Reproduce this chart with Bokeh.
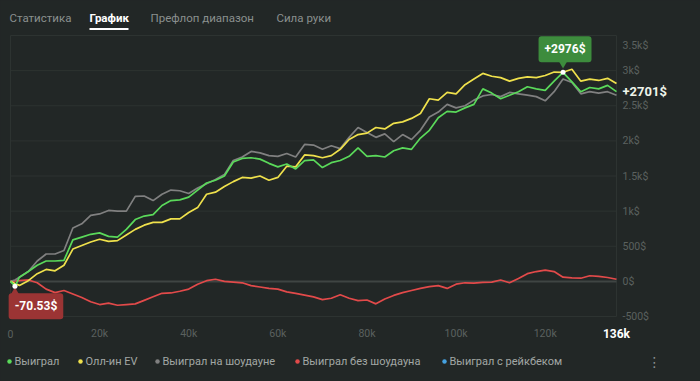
from bokeh.plotting import figure
from bokeh.models import Range1d, Label, BoxAnnotation
from bokeh.embed import file_html
from bokeh.resources import INLINE
from bokeh.core.properties import value

# ---------------- data ----------------
hands = [0, 1000] + list(range(2000, 136001, 2000))

won = [0, -70.53, 60, 140, 230, 290, 290, 300, 590, 630, 670, 690, 640, 630, 740, 880,
       930, 950, 1080, 1150, 1160, 1200, 1300, 1400, 1440, 1500, 1700, 1750, 1760, 1740,
       1680, 1630, 1670, 1600, 1720, 1730, 1620, 1690, 1720, 1780, 1900, 1780, 1790, 1770,
       1860, 1900, 1880, 2040, 2150, 2330, 2420, 2410, 2470, 2520, 2740, 2680, 2600, 2650,
       2700, 2770, 2740, 2720, 2850, 2976, 2840, 2700, 2760, 2740, 2790, 2701]

allin_ev = [0, -30, -57, 10, 110, 170, 150, 230, 460, 510, 560, 600, 570, 580, 660, 740,
            800, 840, 840, 890, 890, 980, 1050, 1240, 1270, 1350, 1420, 1480, 1470, 1500,
            1440, 1480, 1640, 1630, 1800, 1790, 1760, 1790, 1880, 2020, 2090, 2110, 2190, 2170,
            2250, 2270, 2320, 2390, 2600, 2580, 2690, 2670, 2800, 2880, 2960, 2920, 2900, 2850,
            2890, 2910, 2900, 2930, 2980, 2976, 3020, 2850, 2880, 2860, 2890, 2816]

showdown = [0, 20, 60, 140, 290, 390, 390, 440, 760, 820, 940, 960, 1010, 1000, 1000, 1210,
            1215, 1150, 1240, 1300, 1290, 1250, 1330, 1390, 1450, 1520, 1720, 1770, 1850, 1830,
            1790, 1780, 1820, 1770, 1950, 1940, 1880, 1930, 1890, 2050, 2190, 2120, 2050, 2100,
            1990, 2090, 2020, 2150, 2340, 2410, 2520, 2470, 2500, 2580, 2640, 2660, 2630, 2690,
            2670, 2650, 2630, 2570, 2700, 2880, 2830, 2670, 2700, 2680, 2700, 2650]

non_showdown = [0, 5, 10, 20, -20, -110, -160, -130, -180, -230, -290, -330, -310, -340, -330, -320,
                -270, -220, -170, -165, -140, -110, -40, 10, 30, 0, -10, -20, -60, -80,
                -100, -110, -150, -170, -195, -220, -260, -240, -190, -240, -275, -265, -320, -250,
                -200, -160, -130, -100, -75, -60, -100, -40, -20, -25, -15, -10, 20, -20,
                40, 110, 140, 160, 140, 60, 50, 45, 80, 70, 55, 30]

tabs = ["Статистика", "График", "Префлоп диапазон", "Сила руки"]
legend_names = ["Выиграл", "Олл-ин EV", "Выиграл на шоудауне", "Выиграл без шоудауна", "Выиграл с рейкбеком"]

y_ticks = [-500, 0, 500, 1000, 1500, 2000, 2500, 3000, 3500]
y_tick_labels = ["-500$", "0$", "500$", "1k$", "1.5k$", "2k$", "2.5k$", "3k$", "3.5k$"]
x_ticks = [0, 20000, 40000, 60000, 80000, 100000, 120000]
x_tick_labels = ["0", "20k", "40k", "60k", "80k", "100k", "120k"]

# ---------------- styles ----------------
BG = "#222726"
GRID = "#2d3331"
ZERO = "#3f4543"
GREEN = "#5ad95a"
YELLOW = "#efe14c"
GRAY = "#808080"
RED = "#e24a4a"
BLUE = "#45a1e0"
FONT = "Roboto"
W, H = 700, 381

# plot area in canvas pixels: x 10..616, y 35 (3.5k) .. 316 (-500)
HX = (hands[-1] - hands[0]) / 606.0
VY = (y_ticks[-1] - y_ticks[0]) / 281.0


def X(px):
    return hands[0] + (px - 10) * HX


def Y(py):
    return y_ticks[-1] - (py - 35) * VY


p = figure(width=W, height=H, output_backend="svg", toolbar_location=None,
           x_range=Range1d(X(0), X(W)), y_range=Range1d(Y(H), Y(0)),
           x_axis_location=None, y_axis_location=None,
           min_border_left=0, min_border_right=0, min_border_top=0, min_border_bottom=0,
           background_fill_color=BG, border_fill_color=BG, outline_line_color=None)
p.xgrid.visible = False
p.ygrid.visible = False

# grid
grid_y = [t for t in y_ticks if t != 0]
p.segment(x0=[hands[0]] * len(grid_y), x1=[hands[-1]] * len(grid_y), y0=grid_y, y1=grid_y,
          line_color=GRID, line_width=1)
p.segment(x0=[hands[0], hands[-1]], x1=[hands[0], hands[-1]],
          y0=[y_ticks[0]] * 2, y1=[y_ticks[-1]] * 2, line_color=GRID, line_width=1)
p.segment(x0=[hands[0]], x1=[hands[-1]], y0=[0], y1=[0], line_color=ZERO, line_width=2)

# tick labels (the topmost one is kept inside the plot area, as in the original)
label_y = [min(t, y_ticks[-1] - 10 * VY) for t in y_ticks]
p.text(x=[hands[-1] + 6 * HX] * len(y_ticks), y=label_y, text=y_tick_labels,
       text_align="left", text_baseline="middle", text_color="#5b615f",
       text_font=value(FONT), text_font_size="10.5px")
p.text(x=x_ticks, y=[y_ticks[0] - 17 * VY] * len(x_ticks), text=x_tick_labels,
       text_align="center", text_baseline="middle", text_color="#5b615f",
       text_font=value(FONT), text_font_size="10.5px")
p.text(x=[hands[-1]], y=[y_ticks[0] - 17 * VY], text=["%dk" % (hands[-1] // 1000)],
       text_align="center", text_baseline="middle", text_color="white",
       text_font=value(FONT), text_font_style="bold", text_font_size="12px")

# series
lw = 1.7
p.line(hands, non_showdown, line_color=RED, line_width=lw)
p.line(hands, showdown, line_color=GRAY, line_width=lw)
p.line(hands, allin_ev, line_color=YELLOW, line_width=lw)
p.line(hands, won, line_color=GREEN, line_width=lw)

# ---------------- annotations ----------------
i_max = won.index(max(won))
i_min = won.index(min(won))
TIP_G = "#3d8c3d"
TIP_R = "#9b3434"

p.scatter([hands[i_max]], [won[i_max] + 9 * VY], marker="inverted_triangle", size=9,
          fill_color=TIP_G, line_color=None)
p.add_layout(Label(x=hands[i_max], y=won[i_max], x_offset=2, y_offset=23,
                   text="+%d$" % round(max(won)), text_align="center", text_baseline="middle",
                   text_color="white", text_font=FONT, text_font_style="bold", text_font_size="12px",
                   background_fill_color=TIP_G, padding=6, border_radius=3))
p.scatter([hands[i_max]], [won[i_max]], size=5, fill_color="white", line_color=None)

p.scatter([hands[i_min]], [won[i_min] - 6 * VY], marker="triangle", size=9,
          fill_color=TIP_R, line_color=None)
p.add_layout(Label(x=hands[i_min], y=won[i_min], x_offset=21, y_offset=-20,
                   text="%.2f$" % min(won), text_align="center", text_baseline="middle",
                   text_color="white", text_font=FONT, text_font_style="bold", text_font_size="12px",
                   background_fill_color=TIP_R, padding=6, border_radius=3))
p.scatter([hands[i_min]], [won[i_min]], size=5, fill_color="white", line_color=None)

p.text(x=[hands[-1] + 6 * HX], y=[won[-1]], text=["+%d$" % round(won[-1])],
       text_align="left", text_baseline="middle", text_color="#eef4ea",
       text_font=value(FONT), text_font_style="bold", text_font_size="13px")

# tabs
tab_x = [9, 89, 150, 276]
inactive = [i for i in range(len(tabs)) if i != 1]
p.text(x=[X(tab_x[i]) for i in inactive], y=[Y(17)] * len(inactive), text=[tabs[i] for i in inactive],
       text_align="left", text_baseline="middle", text_color="#8a908e",
       text_font=value(FONT), text_font_size="11.5px")
p.text(x=[X(tab_x[1])], y=[Y(17)], text=[tabs[1]],
       text_align="left", text_baseline="middle", text_color="white",
       text_font=value(FONT), text_font_style="bold", text_font_size="11.5px")
p.add_layout(BoxAnnotation(left=X(89), right=X(128), top=Y(27.5), bottom=Y(29.5),
                           fill_color="white", fill_alpha=1, line_color=None))

# legend
leg_colors = [GREEN, YELLOW, GRAY, RED, BLUE]
leg_x = [9, 80, 157, 297, 444]
p.scatter(x=[X(x) for x in leg_x], y=[Y(361)] * len(leg_x), size=4.5,
          fill_color=leg_colors, line_color=None)
p.text(x=[X(x + 5) for x in leg_x], y=[Y(361)] * len(leg_x), text=legend_names,
       text_align="left", text_baseline="middle", text_color="#a2a7a5",
       text_font=value(FONT), text_font_size="11px")
p.text(x=[X(654)], y=[Y(361)], text=["⋮"], text_align="center", text_baseline="middle",
       text_color="#8a908e", text_font=value("DejaVu Sans"), text_font_size="14px")

html = file_html(p, INLINE, title="График")
html = html.replace("<head>", "<head><style>html,body{background:%s;}</style>" % BG, 1)
open("out.html", "w").write(html)
